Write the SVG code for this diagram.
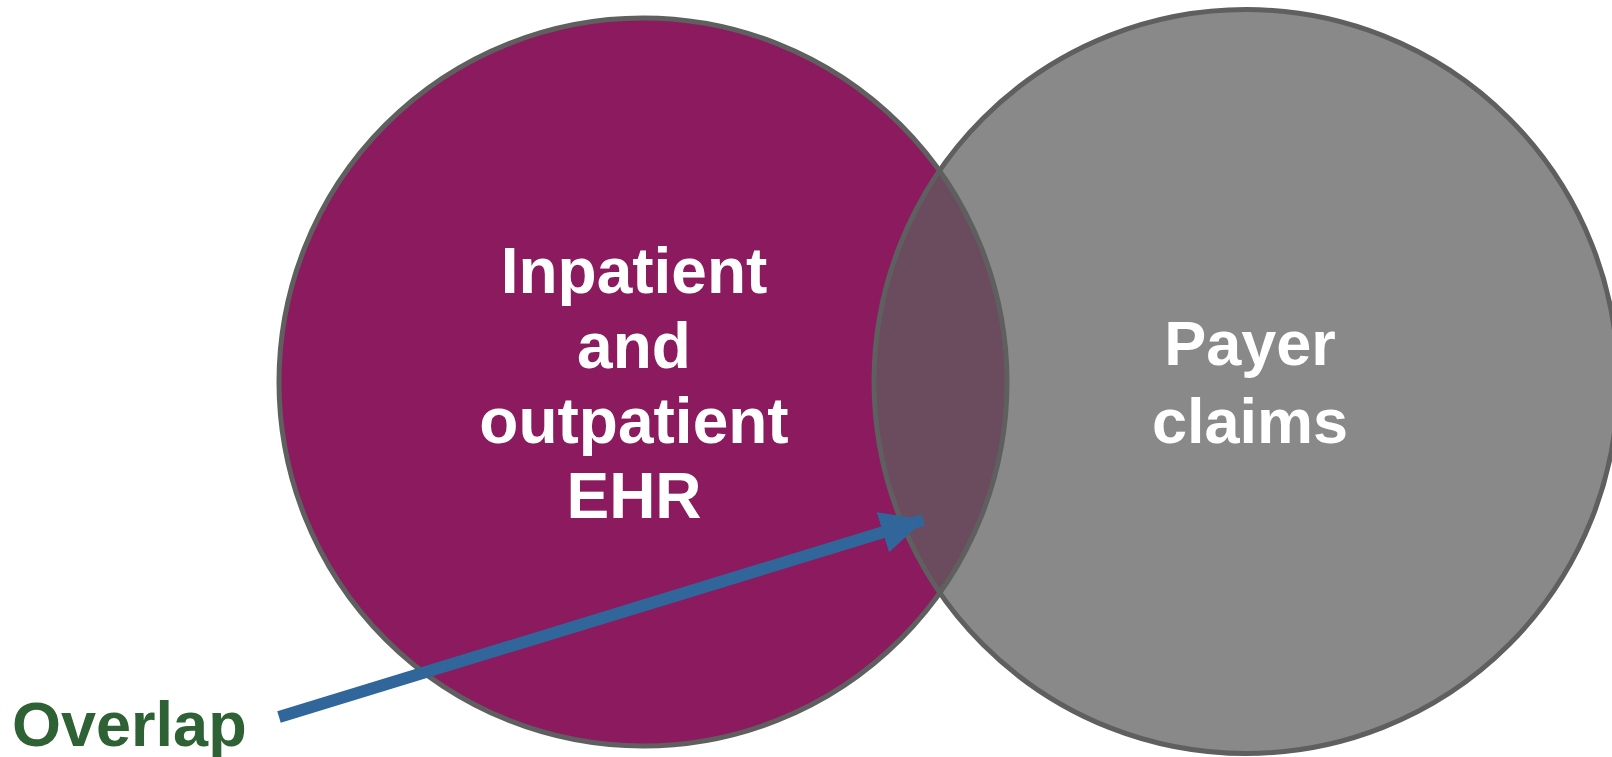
<svg xmlns="http://www.w3.org/2000/svg" width="1612" height="757" viewBox="0 0 1612 757">
<style>
.lbl{font-family:"Liberation Sans",Arial,sans-serif;font-weight:bold;text-anchor:middle;fill:#ffffff}
.ring{fill:none;stroke:#5f5f5f;stroke-width:5}
</style>
<defs>
<clipPath id="clipL"><circle cx="643" cy="382" r="364"/></clipPath>
<marker id="ah" markerUnits="userSpaceOnUse" markerWidth="44" markerHeight="44" viewBox="0 0 44 44" refX="42" refY="22" orient="auto">
<path d="M0,1 L44,22 L0,43 Z" fill="#31669a"/>
</marker>
</defs>
<rect width="1612" height="757" fill="#ffffff"/>
<g id="ehr">
<circle cx="643" cy="382" r="364" fill="#8b1a5e"/>
</g>
<g id="claims">
<circle cx="1246" cy="381.5" r="372" fill="#898989"/>
</g>
<g id="overlap-region">
<circle cx="1246" cy="381.5" r="372" fill="#6b4c5f" clip-path="url(#clipL)"/>
</g>
<g id="outlines">
<circle class="ring" cx="643" cy="382" r="364"/>
<circle class="ring" cx="1246" cy="381.5" r="372"/>
</g>
<g id="ehr-label">
<text class="lbl" font-size="64" x="634" y="293">Inpatient</text>
<text class="lbl" font-size="64" x="634" y="368">and</text>
<text class="lbl" font-size="64" x="634" y="443">outpatient</text>
<text class="lbl" font-size="64" x="634" y="518">EHR</text>
</g>
<g id="claims-label">
<text class="lbl" font-size="63" x="1250" y="365">Payer</text>
<text class="lbl" font-size="63" x="1250" y="443">claims</text>
</g>
<g id="overlap-label">
<text x="12" y="746" font-family="'Liberation Sans',Arial,sans-serif" font-weight="bold" font-size="63" fill="#2e6134">Overlap</text>
</g>
<g id="connectors">
<line x1="279" y1="717" x2="923" y2="520" stroke="#31669a" stroke-width="12" marker-end="url(#ah)"/>
</g>
</svg>
